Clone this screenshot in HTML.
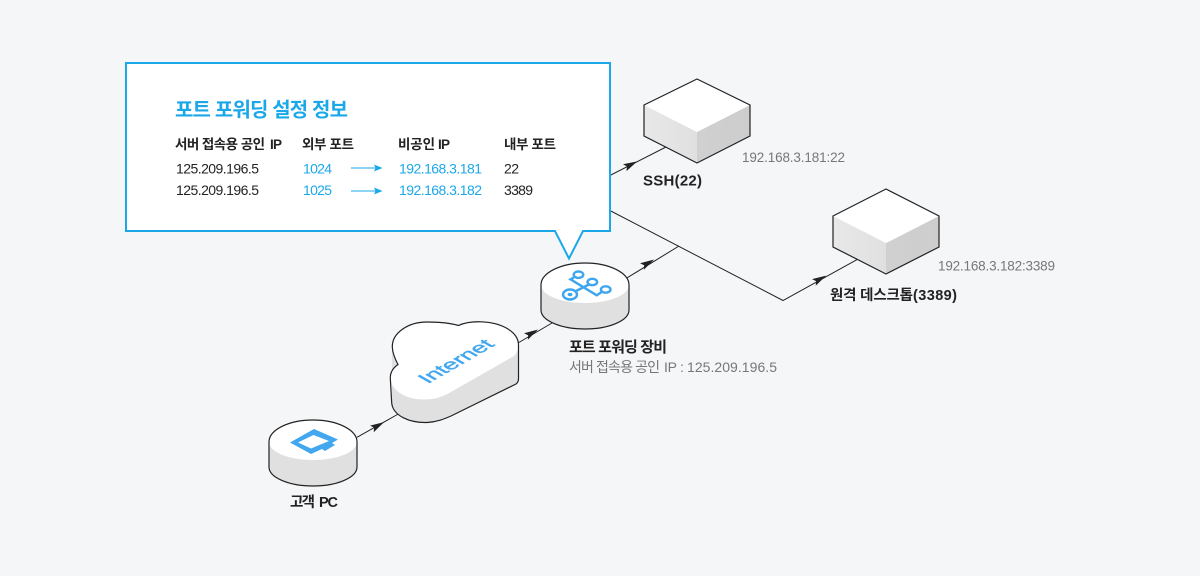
<!DOCTYPE html>
<html lang="ko">
<head>
<meta charset="utf-8">
<title>포트 포워딩 설정 정보</title>
<style>
html,body{margin:0;padding:0;width:1200px;height:576px;overflow:hidden;background:#f5f6f8}
svg{display:block}
text{font-family:"Liberation Sans","Noto Sans CJK KR",sans-serif;fill:#222}
.b{font-weight:700}
.h{font-size:13.5px;font-weight:700}
.r{font-size:14px}
.c{fill:#1ba8e9}
.g{fill:#777;font-size:13.5px}
.s{fill:#777;font-size:14px}
.l{stroke:#222;stroke-width:1;fill:none}
.o{stroke:#222;stroke-width:1.2;fill:none}
.i{stroke:#3ea6ee;stroke-width:2.4;fill:none}
</style>
</head>
<body>
<svg width="1200" height="576" viewBox="0 0 1200 576" xmlns="http://www.w3.org/2000/svg">
<defs>
<path id="a" d="M7 0L-7 -3.800L-4.500 0L-7 3.800Z" fill="#222"/>
<path id="b" d="M4.500 0L-4 -3.500L-2.500 0L-4 3.500Z" fill="#1ba8e9"/>
<linearGradient id="lf" x1="0" y1="0" x2="1" y2="0"><stop offset="0" stop-color="#e8e8e8"/><stop offset="1" stop-color="#e0e0e0"/></linearGradient>
<linearGradient id="rf" x1="0" y1="0" x2="1" y2="0"><stop offset="0" stop-color="#d0d0d0"/><stop offset="1" stop-color="#cdcdcd"/></linearGradient>
</defs>

<!-- connectors -->
<path class="l" d="M357 437.300L398.300 414"/>
<path class="l" d="M518 343L552 323"/>
<path class="l" d="M626 278.500L679 246"/>
<path class="l" d="M605 208L783 300.500L858 259"/>
<path class="l" d="M605 178L666 147"/>
<use href="#a" transform="translate(378,425.500) rotate(-29)"/>
<use href="#a" transform="translate(532,333) rotate(-30)"/>
<use href="#a" transform="translate(648,263) rotate(-30)"/>
<use href="#a" transform="translate(820,279) rotate(-29)"/>
<use href="#a" transform="translate(631,164.500) rotate(-27)"/>

<!-- callout -->
<path d="M126 63H610V231H583L569 258.500L555 231H126Z" fill="#fff" stroke="#1ba8e9" stroke-width="2"/>
<text x="175" y="116.500" class="b c" style="font-size:20px" textLength="173">포트 포워딩 설정 정보</text>
<text x="175" y="149" class="h" textLength="90">서버 접속용 공인</text>
<text x="270" y="149" class="h" textLength="12">IP</text>
<text x="302" y="149" class="h" textLength="52">외부 포트</text>
<text x="398" y="149" class="h" textLength="37">비공인</text>
<text x="438" y="149" class="h" textLength="12">IP</text>
<text x="504" y="149" class="h" textLength="52">내부 포트</text>
<text x="176" y="173.500" class="r" textLength="83">125.209.196.5</text>
<text x="176" y="195" class="r" textLength="83">125.209.196.5</text>
<text x="303" y="173.500" class="r c" textLength="29">1024</text>
<text x="303" y="195" class="r c" textLength="29">1025</text>
<text x="399" y="173.500" class="r c" textLength="83">192.168.3.181</text>
<text x="399" y="195" class="r c" textLength="83">192.168.3.182</text>
<text x="504" y="173.500" class="r" textLength="15">22</text>
<text x="504" y="195" class="r" textLength="29">3389</text>
<path d="M351 168H378M351 191H378" stroke="#1ba8e9" stroke-width="1" fill="none"/>
<use href="#b" transform="translate(378,168)"/>
<use href="#b" transform="translate(378,191)"/>

<!-- cube 1 -->
<path d="M644 105L697 132V163L644 136Z" fill="url(#lf)"/>
<path d="M750 105L697 132V163L750 136Z" fill="url(#rf)"/>
<path d="M697 79L750 105L697 132L644 105Z" fill="#fff"/>
<path class="o" d="M644 105L697 79L750 105V136L697 163L644 136Z"/>
<text x="643" y="185.500" class="b" style="font-size:15px" textLength="59">SSH(22)</text>
<text x="742" y="162" class="g" textLength="103">192.168.3.181:22</text>

<!-- cube 2 -->
<path d="M833 216L886 243V274L833 247Z" fill="url(#lf)"/>
<path d="M939 216L886 243V274L939 247Z" fill="url(#rf)"/>
<path d="M886 189L939 216L886 243L833 216Z" fill="#fff"/>
<path class="o" d="M833 216L886 189L939 216V247L886 274L833 247Z"/>
<text x="830" y="300" class="b" style="font-size:14.5px" textLength="83">원격 데스크톱</text>
<text x="913" y="300" class="b" style="font-size:14.5px" textLength="44">(3389)</text>
<text x="938" y="270.500" class="g" textLength="117">192.168.3.182:3389</text>

<!-- router -->
<path d="M541 285V310A44 19 0 0 0 629 310V285Z" fill="#e0e0e0"/>
<path d="M541 285A44 22 0 0 1 629 285A44 18 0 0 1 541 285Z" fill="#fff"/>
<path class="o" d="M541 285A44 22 0 0 1 629 285V310A44 19 0 0 1 541 310Z"/>
<g class="i">
<path d="M574 277.500L570.500 279.300L596.700 295.300L601.700 292"/>
<path d="M576 291L589 284.500"/>
<ellipse cx="578.500" cy="274.700" rx="4.800" ry="3.200"/>
<ellipse cx="592.300" cy="282" rx="4.800" ry="3.200"/>
<ellipse cx="605.700" cy="289.500" rx="4.800" ry="3.200"/>
<ellipse cx="570" cy="294.500" rx="7" ry="5"/>
</g>
<ellipse cx="570" cy="294.500" rx="2.500" ry="1.800" fill="#3ea6ee"/>
<text x="569" y="352" class="b" style="font-size:15px" textLength="98">포트 포워딩 장비</text>
<text x="569" y="372" class="s" textLength="91">서버 접속용 공인</text>
<text x="664" y="372" class="s" textLength="13">IP</text>
<text x="680" y="372" class="s">:</text>
<text x="687" y="372" class="s" textLength="90">125.209.196.5</text>

<!-- cloud -->
<path d="M392 370V403C393 416 410 423 427 422.500C437 422 444 419 451 416L516 384C518 382.500 518.500 381 518.500 379V343L392 346Z" fill="#e0e0e0"/>
<path d="M392.300 347C392 333 408 322 427 322C439 322 450 323 458.500 325.500C465 322.500 472 321.500 481 321.800C502 322.500 518.500 332 518.500 345C518.500 349 517 352.500 514 356L451 392C442 397.500 433 399.500 424 399.500C404 399.500 390.500 389 390.300 378C390.200 372 393 368 398 364.500C394.500 358 392.500 353 392.300 347Z" fill="#fff"/>
<path class="o" d="M392.300 347C392 333 408 322 427 322C439 322 450 323 458.500 325.500C465 322.500 472 321.500 481 321.800C502 322.500 518.500 332 518.500 345V379C518.500 381 518 382.500 516 384L451 416C444 419 437 422 427 422.500C410 423 393 416 391.700 403L390.300 378C390.200 372 393 368 398 364.500C394.500 358 392.500 353 392.300 347Z"/>
<text transform="matrix(.866,-.5,.866,.5,428,384)" style="font-size:20px;fill:#42a7ef;stroke:#42a7ef;stroke-width:.5" textLength="78" lengthAdjust="spacingAndGlyphs">Internet</text>

<!-- PC -->
<path d="M269 442V467A44 19 0 0 0 357 467V442Z" fill="#e0e0e0"/>
<path d="M269 442A44 22 0 0 1 357 442A44 18 0 0 1 269 442Z" fill="#fff"/>
<path class="o" d="M269 442A44 22 0 0 1 357 442V467A44 19 0 0 1 269 467Z"/>
<path d="M314 429L338 439.500L332 443L335 445L325 451L322 449L311 454L290 442.500ZM313.500 435L298 442.500L311 448.500L329 441Z" fill="#42a7ef" fill-rule="evenodd"/>
<text x="290" y="507" class="b" style="font-size:14.5px" textLength="25">고객</text>
<text x="319" y="507" class="b" style="font-size:14.5px" textLength="19">PC</text>
</svg>
</body>
</html>
